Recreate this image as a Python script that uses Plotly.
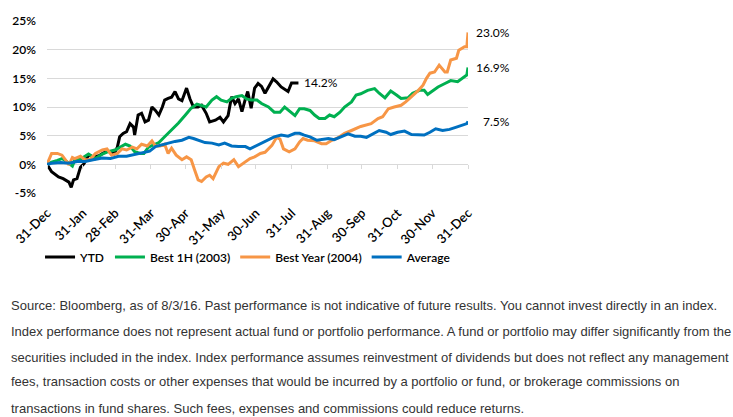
import datetime as dt
import plotly.graph_objects as go

# ---------------- data (day offset from 31-Dec, cumulative return %) ----------------
ytd_days = [0, 4, 10, 14, 19, 21, 23, 26, 29, 32, 36, 40, 45, 49, 53, 58, 61, 63, 66, 69,
            72, 75, 76, 79, 82, 85, 88, 91, 94, 97, 100, 102, 105, 108, 111, 114, 117, 121, 124, 127,
            131, 134, 138, 141, 146, 150, 153, 157, 160, 163, 166, 169, 172, 174, 177, 180, 183, 186, 189, 192,
            196, 199, 203, 209, 212, 218]
ytd_vals = [0, -1.3, -2.2, -2.5, -3.1, -4.0, -2.7, -2.5, -0.5, 0.1, 1.6, 1.3, 1.5, 2.0, 2.3, 1.8, 3.0, 4.8, 5.4, 5.7,
            7.1, 6.5, 5.1, 8.6, 8.9, 7.4, 7.7, 10.0, 9.4, 8.6, 10.0, 11.2, 11.5, 11.7, 12.7, 11.4, 11.1, 13.3, 11.4, 10.0,
            10.0, 10.3, 8.9, 7.4, 7.7, 8.2, 7.4, 8.5, 11.8, 10.6, 11.4, 9.2, 11.4, 12.7, 9.8, 13.3, 14.1, 13.6, 12.4, 13.5,
            14.9, 14.4, 13.5, 12.7, 14.2, 14.2]

h1_days = [0, 4, 9, 13, 17, 22, 24, 30, 36, 42, 48, 53, 59, 63, 68, 72, 76, 81, 84, 88,
           92, 97, 102, 108, 114, 120, 125, 130, 134, 138, 143, 147, 151, 156, 160, 164, 169, 173, 177, 182,
           186, 192, 197, 202, 206, 210, 215, 219, 223, 228, 232, 236, 241, 245, 249, 254, 258, 264, 268, 272,
           278, 284, 288, 293, 298, 303, 307, 313, 317, 323, 327, 330, 339, 345, 350, 356, 360, 364, 365]
h1_vals = [0, 0.4, 0.7, 1.0, 0.5, -0.3, 0.7, 1.0, 1.8, 1.0, 1.8, 2.2, 2.5, 3.0, 3.5, 3.2, 2.2, 1.9, 1.9, 3.0,
           3.3, 3.8, 4.8, 6.0, 7.2, 8.6, 9.8, 10.5, 10.2, 10.0, 11.2, 11.8, 11.2, 10.9, 11.5, 11.8, 12.0, 11.4, 11.2, 11.2,
           10.6, 10.0, 9.1, 9.1, 10.0, 9.4, 8.5, 9.7, 9.7, 9.4, 8.6, 8.0, 8.0, 8.6, 8.3, 9.1, 10.0, 10.9, 12.1, 12.3,
           12.9, 13.2, 12.4, 11.6, 12.8, 12.1, 11.5, 11.6, 12.4, 12.9, 12.9, 12.2, 13.5, 14.1, 14.6, 14.4, 15.0, 15.6, 16.9]

yr_days = [0, 4, 9, 13, 16, 19, 22, 24, 29, 33, 37, 42, 48, 52, 56, 61, 65, 69, 74, 78,
           82, 87, 91, 94, 98, 102, 105, 108, 112, 117, 121, 125, 128, 131, 134, 138, 141, 144, 149, 153,
           157, 162, 166, 170, 176, 180, 185, 189, 195, 199, 202, 205, 210, 215, 219, 222, 226, 232, 238, 242,
           247, 252, 258, 264, 268, 272, 281, 287, 291, 296, 301, 307, 311, 316, 322, 326, 329, 332, 336, 340,
           345, 347, 350, 355, 357, 362, 364, 365]
yr_vals = [0, 1.9, 1.9, 1.6, 0.8, -0.1, 1.2, 1.0, 1.4, 0.8, 0.8, 1.9, 2.5, 2.7, 1.6, 1.9, 2.7, 2.5, 3.0, 2.7,
           3.5, 3.2, 4.1, 3.2, 3.2, 3.5, 1.9, 2.8, 1.6, 0.8, 1.3, 0.8, -1.0, -2.7, -3.0, -2.2, -1.9, -2.5, -0.4, 0.2,
           0.0, 0.8, -0.4, 0.2, 1.0, 1.3, 1.9, 2.1, 3.3, 4.7, 4.4, 2.7, 2.2, 2.7, 3.9, 4.5, 4.2, 4.1, 3.6, 3.6,
           4.2, 4.6, 5.4, 5.9, 6.2, 6.6, 7.1, 8.0, 8.3, 9.7, 10.0, 10.3, 10.9, 11.8, 12.9, 13.8, 15.0, 15.9, 16.1, 17.3,
           16.1, 16.1, 18.2, 18.5, 19.9, 20.5, 20.5, 23.0]

avg_days = [0, 4, 12, 19, 26, 33, 40, 48, 55, 62, 69, 76, 84, 89, 94, 99, 105, 111, 117, 123,
            127, 131, 137, 143, 149, 154, 160, 166, 172, 176, 180, 186, 192, 197, 203, 209, 215, 219, 223, 228,
            234, 238, 244, 249, 255, 261, 267, 272, 277, 283, 288, 294, 298, 304, 310, 316, 322, 327, 332, 337,
            343, 349, 355, 360, 364, 365]
avg_vals = [0, 0.2, 0.3, 0.2, 0.5, 0.5, 0.8, 1.1, 1.0, 1.4, 1.4, 1.7, 2.0, 2.3, 3.1, 3.4, 3.7, 4.0, 4.2, 4.7,
            4.5, 4.2, 3.8, 3.7, 3.4, 3.7, 3.2, 3.1, 3.1, 2.7, 3.1, 3.7, 4.2, 4.8, 5.1, 4.9, 5.4, 5.4, 5.1, 4.8,
            4.2, 4.3, 4.5, 4.3, 4.8, 5.3, 4.9, 4.9, 4.7, 5.4, 5.9, 5.6, 5.2, 5.6, 5.8, 5.2, 5.1, 5.1, 5.6, 6.2,
            5.9, 6.1, 6.5, 6.8, 7.1, 7.5]

series_names = ["YTD", "Best 1H (2003)", "Best Year (2004)", "Average"]
end_labels = ["14.2%", "16.9%", "23.0%", "7.5%"]
month_ticks = ["2014-12-31", "2015-01-31", "2015-02-28", "2015-03-31", "2015-04-30", "2015-05-31",
               "2015-06-30", "2015-07-31", "2015-08-31", "2015-09-30", "2015-10-31", "2015-11-30", "2015-12-31"]
y_ticks = [-5, 0, 5, 10, 15, 20, 25]
y_tick_text = ["-5%", "0%", "5%", "10%", "15%", "20%", "25%"]

source_lines = [
    "Source: Bloomberg, as of 8/3/16. Past performance is not indicative of future results. You cannot invest directly in an index.",
    "Index performance does not represent actual fund or portfolio performance. A fund or portfolio may differ significantly from the",
    "securities included in the index. Index performance assumes reinvestment of dividends but does not reflect any management",
    "fees, transaction costs or other expenses that would be incurred by a portfolio or fund, or brokerage commissions on",
    "transactions in fund shares. Such fees, expenses and commissions could reduce returns.",
]

# ---------------- layout geometry ----------------
W, H = 733, 417
PL, PR, PT, PB = 45, 468, 21, 193
BASE = dt.date(2014, 12, 31)


def to_dates(days):
    return [(BASE + dt.timedelta(days=d)).isoformat() for d in days]


def px_x(px):
    return (px - PL) / (PR - PL)


def px_y(py):
    return (PB - py) / (PB - PT)


FONT = "Lato, 'Open Sans', sans-serif"
colors = ["#000000", "#00b050", "#f79646", "#0070c0"]
all_days = [ytd_days, h1_days, yr_days, avg_days]
all_vals = [ytd_vals, h1_vals, yr_vals, avg_vals]

fig = go.Figure()
for i, (name, d, v, c) in enumerate(zip(series_names, all_days, all_vals, colors)):
    fig.add_trace(go.Scatter(
        x=to_dates(d), y=v, mode="lines", name=name,
        line=dict(color=c, width=3),
        xaxis="x2" if i == 3 else "x",
        hoverinfo="skip",
    ))

# end-of-line labels
shifts = [4, 6, 6, 13]
for name, d, v, lab, s in zip(series_names, all_days, all_vals, end_labels, shifts):
    fig.add_annotation(x=to_dates([d[-1]])[0], y=v[-1], text=lab, showarrow=False,
                       xanchor="left", yanchor="middle", xshift=s,
                       font=dict(family=FONT, size=12, color="#000000"))

# source text
src_y = [305, 331, 357, 382, 408]
for line, yy in zip(source_lines, src_y):
    fig.add_annotation(xref="paper", yref="paper", x=px_x(7), y=px_y(yy), text=line,
                       showarrow=False, xanchor="left", yanchor="middle",
                       font=dict(family="'Liberation Sans', Arial, sans-serif", size=13, color="#333333"))

xrange = [month_ticks[0], month_ticks[-1]]
fig.update_layout(
    width=W, height=H,
    margin=dict(l=PL, r=W - PR, t=PT, b=H - PB, pad=0),
    paper_bgcolor="white", plot_bgcolor="white",
    font=dict(family=FONT, size=12, color="#000000"),
    showlegend=True,
    legend=dict(orientation="h", x=px_x(38), xanchor="left", y=px_y(257), yanchor="middle",
                font=dict(family=FONT, size=12, color="#000000", weight=600), itemwidth=30,
                bgcolor="rgba(0,0,0,0)"),
    xaxis=dict(type="date", range=xrange, tickvals=month_ticks, tickformat="%d-%b",
               tickangle=-45, showgrid=False, zeroline=False, showline=False, ticks="",
               ticklabelstandoff=9,
               tickfont=dict(family=FONT, size=13, color="#000000", weight=600), fixedrange=True),
    xaxis2=dict(type="date", range=xrange, tickvals=month_ticks, overlaying="x", anchor="free",
                position=px_y(164), side="bottom", showticklabels=False, ticks="outside",
                ticklen=4, tickwidth=1, tickcolor="#d9d9d9", showgrid=False, zeroline=False,
                showline=False),
    yaxis=dict(range=[-5, 25], tickvals=y_ticks, ticktext=y_tick_text, showgrid=True,
               gridcolor="#d9d9d9", gridwidth=1, zeroline=False, showline=False, ticks="",
               ticklabelstandoff=10,
               tickfont=dict(family=FONT, size=12, color="#000000", weight=600)),
)

fig.write_html("out.html")
